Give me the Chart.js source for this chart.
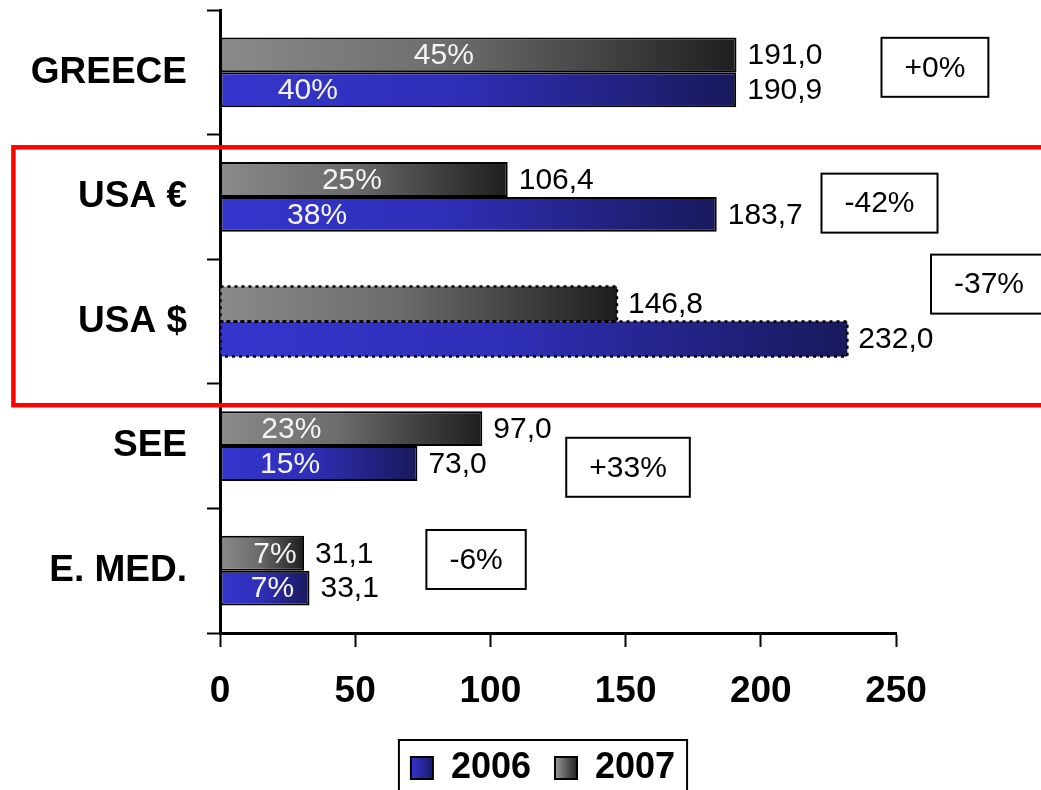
<!DOCTYPE html>
<html>
<head>
<meta charset="utf-8">
<script src="https://cdn.jsdelivr.net/npm/chart.js@4.4.0/dist/chart.umd.min.js"></script>
<style>
  html, body { margin: 0; padding: 0; background: #fff; }
  #wrap { width: 1041px; height: 790px; position: relative; }
</style>
</head>
<body>
<div id="wrap"><canvas id="sales"></canvas></div>
<script>
// sales by market, 2006 vs 2007
const regions = ['GREECE', 'USA €', 'USA $', 'SEE', 'E. MED.'];
const values2007 = [191.0, 106.4, 146.8, 97.0, 31.1];
const values2006 = [190.9, 183.7, 232.0, 73.0, 33.1];
// share of the total, printed inside the bars (no share on the dollar row)
const share2007 = [45, 25, null, 23, 7];
const share2006 = [40, 38, null, 15, 7];
const xTicks = [0, 50, 100, 150, 200, 250];

const FONT = '"Liberation Sans", Arial, sans-serif';

// year-on-year change shown in the boxes
const changes = values2007.map(function(v, i) {
  const pct = Math.round((v / values2006[i] - 1) * 100);
  return (pct >= 0 ? '+' : '') + pct + '%';
});

const grayStops = [[0, '#8a8a8a'], [0.45, '#6c6c6c'], [1, '#1e1e1e']];
const blueStops = [[0, '#3535cd'], [0.45, '#2f2fb8'], [1, '#19195c']];

// horizontal gradient running from the axis to the end of each bar
function barFill(stops, solid) {
  return function(ctx) {
    const chart = ctx.chart;
    if (ctx.type !== 'data' || !chart.chartArea) return solid;
    const xs = chart.scales.x;
    const x0 = xs.getPixelForValue(0);
    const x1 = xs.getPixelForValue(ctx.raw);
    const g = chart.ctx.createLinearGradient(x0, 0, x1, 0);
    stops.forEach(function(s) { g.addColorStop(s[0], s[1]); });
    return g;
  };
}

function fmt(v) {
  return v.toFixed(1).replace('.', ',');
}

const decorations = {
  id: 'decorations',
  afterLayout(chart, args, opts) {
    // nudge the legend under the bars
    const lg = chart.legend;
    lg.left += opts.legendShift[0];
    lg.right += opts.legendShift[0];
    lg.top += opts.legendShift[1];
    lg.bottom += opts.legendShift[1];
  },
  beforeDraw(chart) {
    // gradient swatches in the legend
    const lg = chart.legend;
    lg.legendItems.forEach(function(item, i) {
      const hb = lg.legendHitBoxes[i];
      if (!hb) return;
      const g = chart.ctx.createLinearGradient(hb.left, 0, hb.left + 22, 0);
      const stops = item.datasetIndex === 0 ? [[0, '#999'], [1, '#222']] : [[0, '#3535cd'], [1, '#1a1a70']];
      stops.forEach(function(s) { g.addColorStop(s[0], s[1]); });
      item.fillStyle = g;
    });
  },
  afterDatasetsDraw(chart, args, opts) {
    const ctx = chart.ctx;
    const xs = chart.scales.x;
    const shares = [share2007, share2006];
    ctx.save();

    chart.data.datasets.forEach(function(ds, di) {
      const meta = chart.getDatasetMeta(di);
      meta.data.forEach(function(bar, i) {
        const v = ds.data[i];
        const top = bar.y - bar.height / 2;

        // dotted outline for the dollar row
        if (opts.dottedRows.indexOf(i) >= 0) {
          ctx.setLineDash([3, 4]);
          ctx.lineWidth = 2.5;
          ctx.strokeStyle = '#000';
          ctx.strokeRect(bar.base, top, bar.x - bar.base, bar.height);
          ctx.setLineDash([]);
        }

        ctx.textBaseline = 'middle';
        ctx.font = '30px ' + FONT;

        // value next to the bar
        ctx.fillStyle = '#000';
        ctx.textAlign = 'left';
        ctx.fillText(fmt(v), bar.x + 11, bar.y + 1);

        // share inside the bar
        const s = shares[di][i];
        if (s !== null) {
          ctx.fillStyle = '#f4f4f4';
          ctx.textAlign = 'center';
          ctx.fillText(s + '%', xs.getPixelForValue(opts.shareAt[di][i]), bar.y + 1);
        }
      });
    });
    ctx.restore();
  },
  afterDraw(chart, args, opts) {
    const ctx = chart.ctx;
    const xs = chart.scales.x;
    const ys = chart.scales.y;
    ctx.save();

    // change boxes
    ctx.font = '30px ' + FONT;
    ctx.textAlign = 'center';
    ctx.textBaseline = 'middle';
    changes.forEach(function(txt, i) {
      const cx = xs.getPixelForValue(opts.noteX[i]);
      const cy = ys.getPixelForValue(opts.noteY[i]);
      const w = ctx.measureText(txt).width + 46;
      const h = 59;
      ctx.fillStyle = '#fff';
      ctx.fillRect(cx - w / 2, cy - h / 2, w, h);
      ctx.lineWidth = 2;
      ctx.strokeStyle = '#000';
      ctx.strokeRect(cx - w / 2, cy - h / 2, w, h);
      ctx.fillStyle = '#000';
      ctx.fillText(txt, cx, cy + 1);
    });

    // red frame around the two USA rows
    const f = opts.frame;
    const fx0 = xs.getPixelForValue(f.x0);
    const fx1 = xs.getPixelForValue(f.x1);
    const fy0 = ys.getPixelForValue(f.y0);
    const fy1 = ys.getPixelForValue(f.y1);
    ctx.strokeStyle = '#ff0000';
    ctx.lineWidth = 4.5;
    ctx.strokeRect(fx0, fy0, fx1 - fx0, fy1 - fy0);

    // box around the legend
    const hbs = chart.legend.legendHitBoxes;
    if (hbs && hbs.length) {
      let l = Infinity, r = -Infinity, t = Infinity;
      hbs.forEach(function(hb) {
        l = Math.min(l, hb.left);
        r = Math.max(r, hb.left + hb.width);
        t = Math.min(t, hb.top);
      });
      ctx.lineWidth = 2;
      ctx.strokeStyle = '#000';
      ctx.strokeRect(l - 12, t - 10, r - l + 24, chart.height - t + 30);
    }
    ctx.restore();
  }
};

const bold37 = { family: FONT, size: 37, weight: 'bold' };

new Chart('sales', {
  type: 'bar',
  data: {
    labels: regions,
    datasets: [
      {
        label: '2007',
        data: values2007,
        backgroundColor: barFill(grayStops, '#666'),
        borderColor: '#000',
        borderWidth: function(c) { return c.dataIndex === 2 ? 0 : 2; },
        borderSkipped: false
      },
      {
        label: '2006',
        data: values2006,
        backgroundColor: barFill(blueStops, '#2a2aa8'),
        borderColor: '#000',
        borderWidth: function(c) { return c.dataIndex === 2 ? 0 : 2; },
        borderSkipped: false
      }
    ]
  },
  options: {
    indexAxis: 'y',
    responsive: true,
    maintainAspectRatio: false,
    animation: false,
    layout: { padding: { top: 10, right: 145, left: 0, bottom: 0 } },
    datasets: { bar: { categoryPercentage: 0.56, barPercentage: 1 } },
    scales: {
      x: {
        min: 0,
        max: 250,
        afterBuildTicks: function(s) { s.ticks = xTicks.map(function(v) { return { value: v }; }); },
        ticks: { font: bold37, color: '#000', padding: 23 },
        grid: { drawOnChartArea: false, tickLength: 14, tickWidth: 2, tickColor: '#000' },
        border: { color: '#000', width: 3 },
        afterFit: function(s) { s.height = 87; }
      },
      y: {
        ticks: { font: bold37, color: '#000', padding: 20 },
        grid: { offset: true, drawOnChartArea: false, tickLength: 13, tickWidth: 2, tickColor: '#000' },
        border: { color: '#000', width: 3 },
        afterFit: function(s) {
          s.width = 220;
          s.paddingTop = 0;
          s.paddingBottom = 0;
        }
      }
    },
    plugins: {
      tooltip: { enabled: false },
      legend: {
        position: 'bottom',
        fullSize: false,
        reverse: true,
        labels: {
          font: { family: FONT, size: 36, weight: 'bold' },
          color: '#000',
          boxWidth: 22,
          boxHeight: 22,
          padding: 24
        }
      },
      decorations: {
        legendShift: [-15, 6],
        dottedRows: [2],
        shareAt: [[82.8, 48.8, null, 26.4, 20.3], [32.5, 35.9, null, 25.9, 19.4]],
        noteX: [264.4, 243.9, 284.4, 150.9, 94.7],
        noteY: [-0.04, 1.05, 1.7, 3.17, 3.91],
        frame: { x0: -76.4, x1: 330, y0: 0.602, y1: 2.672 }
      }
    }
  },
  plugins: [decorations]
});
</script>
</body>
</html>
